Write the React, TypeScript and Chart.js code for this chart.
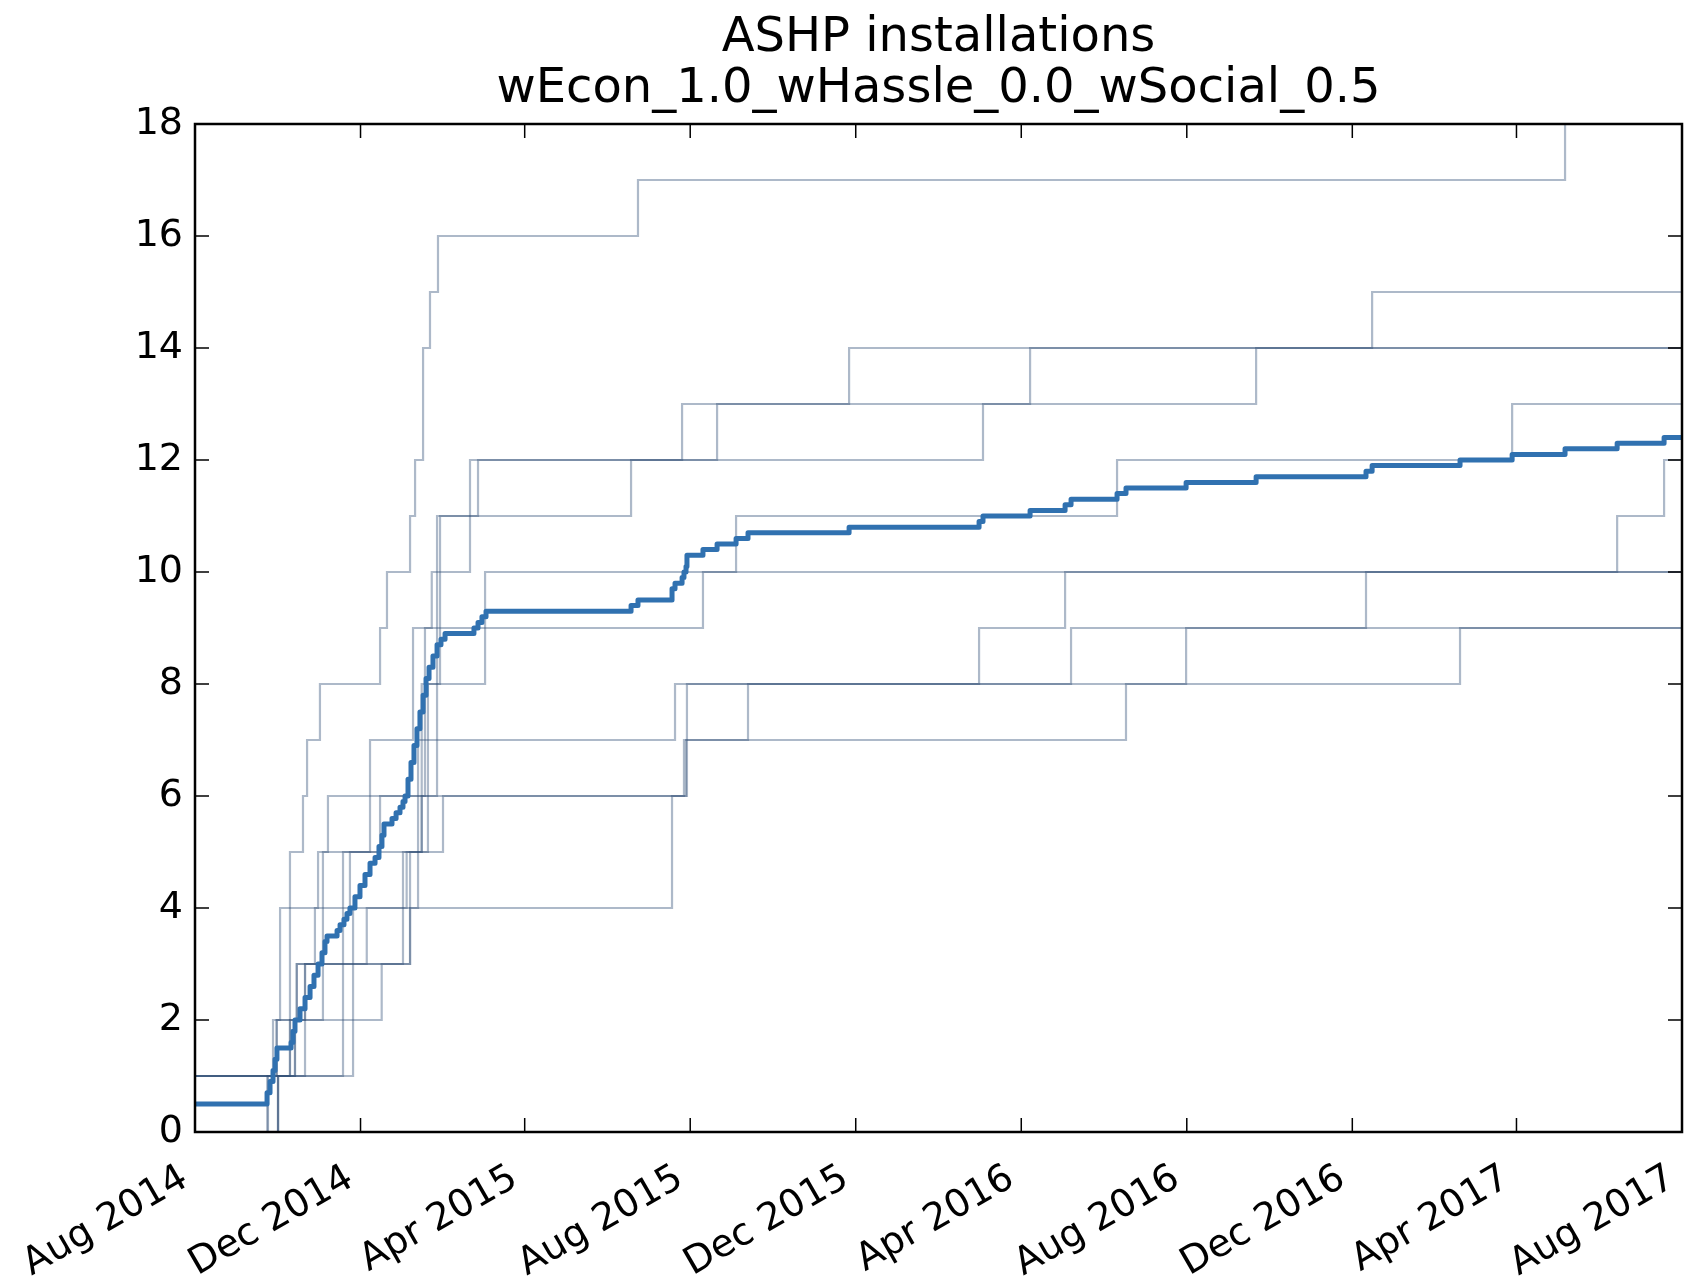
import React, { useEffect, useRef } from "react";
import { Chart, registerables } from "chart.js";

Chart.register(...registerables);

// ---------- data ----------
const START_DATE = "2014-08-01"; // x values below are days after this date

const titleLines = ["ASHP installations", "wEcon_1.0_wHassle_0.0_wSocial_0.5"];

const tickDates = [
  "2014-08-01", "2014-12-01", "2015-04-01", "2015-08-01", "2015-12-01",
  "2016-04-01", "2016-08-01", "2016-12-01", "2017-04-01", "2017-08-01",
];
const tickLabels = [
  "Aug 2014", "Dec 2014", "Apr 2015", "Aug 2015", "Dec 2015",
  "Apr 2016", "Aug 2016", "Dec 2016", "Apr 2017", "Aug 2017",
];
const yTickValues = [0, 2, 4, 6, 8, 10, 12, 14, 16, 18];

// individual simulation runs: [day, cumulative installations]
const run1: [number, number][] = [[0,0],[53.8,1],[57.5,2],[62.7,4],[70.0,5],[79.6,6],[82.6,7],[92.1,8],[136.4,9],[141.5,10],[158.5,11],[162.2,12],[168.1,14],[173.2,15],[179.1,16],[326.5,17],[1009.8,18],[1096,18]];
const run2: [number, number][] = [[0,1],[60.2,2],[75.0,3],[94.3,4],[114.2,5],[129.0,7],[160.7,9],[174.5,10],[202.7,12],[359.0,13],[482.1,14],[867.6,15],[1096,15]];
const run3: [number, number][] = [[0,1],[70.0,2],[81.1,3],[109.1,5],[136.4,6],[164.4,7],[178.4,11],[321.4,12],[580.8,13],[782.1,14],[1096,14]];
const run4: [number, number][] = [[0,0],[61.2,1],[73.7,2],[94.3,3],[116.5,4],[156.0,5],[167.1,8],[180.6,11],[208.6,12],[384.8,13],[615.5,14],[1096,14]];
const run5: [number, number][] = [[0,0],[53.3,1],[116.5,2],[137.6,3],[153.3,5],[171.7,8],[213.8,10],[398.8,11],[679.6,12],[970.8,13],[1096,13]];
const run6: [number, number][] = [[0,1],[81.1,2],[109.1,3],[158.5,4],[164.4,6],[169.5,9],[374.4,10],[1096,10]];
const run7: [number, number][] = [[0,0],[61.2,1],[70.0,2],[75.0,3],[158.5,5],[167.1,6],[178.4,7],[353.8,8],[577.9,9],[641.3,10],[1048.2,11],[1082.8,12],[1096,12]];
const run8: [number, number][] = [[0,1],[73.7,2],[81.1,3],[88.4,4],[94.3,5],[98.0,6],[362.6,8],[645.7,9],[1096,9]];
const run9: [number, number][] = [[0,1],[60.2,2],[70.0,4],[90.7,5],[182.8,6],[360.4,7],[407.6,8],[730.5,9],[863.1,10],[1096,10]];
const run10: [number, number][] = [[0,0],[61.2,1],[109.1,2],[116.5,3],[126.6,4],[351.6,6],[361.9,7],[686.2,8],[932.4,9],[1096,9]];

const runs = [run1, run2, run3, run4, run5, run6, run7, run8, run9, run10];

// mean over runs: [day, mean installations]
const meanRun: [number, number][] = [
  [0,0.5],[53.1,0.7],[55.3,0.9],[57.5,1.1],[59.0,1.3],[60.4,1.5],[70.8,1.6],[72.2,1.8],[73.7,2.0],
  [77.4,2.2],[81.1,2.4],[84.8,2.6],[87.7,2.8],[90.7,3.0],[93.6,3.2],[95.8,3.4],[97.3,3.5],[104.7,3.6],
  [106.9,3.7],[109.8,3.8],[112.0,3.9],[114.2,4.0],[117.9,4.2],[121.6,4.4],[125.3,4.6],[129.0,4.8],
  [132.7,4.9],[135.6,5.1],[137.8,5.3],[139.3,5.5],[145.2,5.6],[148.2,5.7],[151.1,5.8],[153.3,5.9],
  [154.8,6.0],[157.0,6.3],[159.2,6.6],[161.4,6.9],[163.6,7.2],[165.8,7.5],[168.1,7.8],[170.3,8.1],
  [172.5,8.3],[175.4,8.5],[178.4,8.7],[181.3,8.8],[184.3,8.9],[205.6,9.0],[208.6,9.1],[211.5,9.2],
  [214.5,9.3],[321.4,9.4],[326.5,9.5],[351.6,9.7],[353.8,9.8],[359.0,9.9],[360.4,10.0],[361.9,10.1],
  [362.6,10.3],[374.4,10.4],[384.8,10.5],[398.8,10.6],[407.6,10.7],[482.1,10.8],[577.9,10.9],
  [580.8,11.0],[615.5,11.1],[641.3,11.2],[645.7,11.3],[679.6,11.4],[686.2,11.5],[730.5,11.6],
  [782.1,11.7],[863.1,11.8],[867.6,11.9],[932.4,12.0],[970.8,12.1],[1009.8,12.2],[1048.2,12.3],
  [1082.8,12.4],[1096,12.4],
];

// ---------- helpers ----------
const DAY_MS = 86400000;
const toDays = (iso: string) => (Date.parse(iso) - Date.parse(START_DATE)) / DAY_MS;
const tickDays = tickDates.map(toDays);

const FONT = "DejaVu Sans";

const framePlugin = {
  id: "mplFrame",
  afterDatasetsDraw(chart: any) {
    const { ctx, chartArea: a, scales } = chart;
    const L = 14;
    ctx.save();
    ctx.strokeStyle = "#000";
    ctx.lineWidth = 1.5;
    ctx.beginPath();
    for (const d of tickDays) {
      const px = scales.x.getPixelForValue(d);
      ctx.moveTo(px, a.bottom);
      ctx.lineTo(px, a.bottom - L);
      ctx.moveTo(px, a.top);
      ctx.lineTo(px, a.top + L);
    }
    for (const v of yTickValues) {
      const py = scales.y.getPixelForValue(v);
      ctx.moveTo(a.left, py);
      ctx.lineTo(a.left + L, py);
      ctx.moveTo(a.right, py);
      ctx.lineTo(a.right - L, py);
    }
    ctx.stroke();
    ctx.lineWidth = 2.5;
    ctx.strokeRect(a.left, a.top, a.right - a.left, a.bottom - a.top);
    ctx.restore();
  },
};

export default function App() {
  const canvasRef = useRef<HTMLCanvasElement | null>(null);

  useEffect(() => {
    document.body.style.margin = "0";
    const canvas = canvasRef.current;
    if (!canvas) return;

    const runDatasets = runs.map((r, i) => ({
      label: `run ${i + 1}`,
      data: r.map(([x, y]) => ({ x, y })),
      stepped: true,
      borderColor: "rgba(50, 80, 120, 0.40)",
      borderWidth: 2.2,
      borderJoinStyle: "miter",
      pointRadius: 0,
      fill: false,
      order: 1,
    }));

    const chart = new Chart(canvas, {
      type: "line",
      data: {
        datasets: [
          {
            label: "mean",
            data: meanRun.map(([x, y]) => ({ x, y })),
            stepped: true,
            borderColor: "#3071b0",
            borderWidth: 5,
            borderJoinStyle: "round",
            pointRadius: 0,
            fill: false,
            order: 0,
          },
          ...runDatasets,
        ] as any,
      },
      options: {
        animation: false,
        responsive: false,
        devicePixelRatio: 1,
        layout: { padding: { top: 0, left: 0, right: 3, bottom: 0 } },
        plugins: {
          legend: { display: false },
          tooltip: { enabled: false },
          title: {
            display: true,
            text: titleLines,
            fullSize: false,
            color: "#000",
            font: { family: FONT, size: 48, weight: "normal", lineHeight: 51 / 48 },
            padding: { top: 13, bottom: 9 },
          } as any,
        },
        scales: {
          x: {
            type: "linear",
            min: 0,
            max: tickDays[tickDays.length - 1],
            afterBuildTicks: (s: any) => {
              s.ticks = tickDays.map((v) => ({ value: v }));
            },
            afterFit: (s: any) => {
              s.height = 145;
              s.paddingLeft = 0;
              s.paddingRight = 0;
            },
            ticks: {
              autoSkip: false,
              minRotation: 30,
              maxRotation: 30,
              padding: 24,
              labelOffset: -10,
              color: "#000",
              font: { family: FONT, size: 38 },
              callback: (v: any) => {
                const idx = tickDays.findIndex((d) => Math.abs(d - Number(v)) < 0.01);
                return idx >= 0 ? tickLabels[idx] : "";
              },
            },
            grid: { display: false, drawTicks: false },
            border: { display: false },
          },
          y: {
            type: "linear",
            min: 0,
            max: 18,
            afterBuildTicks: (s: any) => {
              s.ticks = yTickValues.map((v) => ({ value: v }));
            },
            afterFit: (s: any) => {
              s.width = 195;
            },
            ticks: {
              padding: 12,
              color: "#000",
              font: { family: FONT, size: 38 },
              callback: (v: any) => String(v),
            },
            grid: { display: false, drawTicks: false },
            border: { display: false },
          },
        },
      } as any,
      plugins: [framePlugin],
    });

    return () => {
      chart.destroy();
    };
  }, []);

  return (
    <div style={{ width: 1685, height: 1277, position: "relative", background: "#fff" }}>
      <canvas ref={canvasRef} width={1685} height={1277} style={{ display: "block" }} />
    </div>
  );
}
